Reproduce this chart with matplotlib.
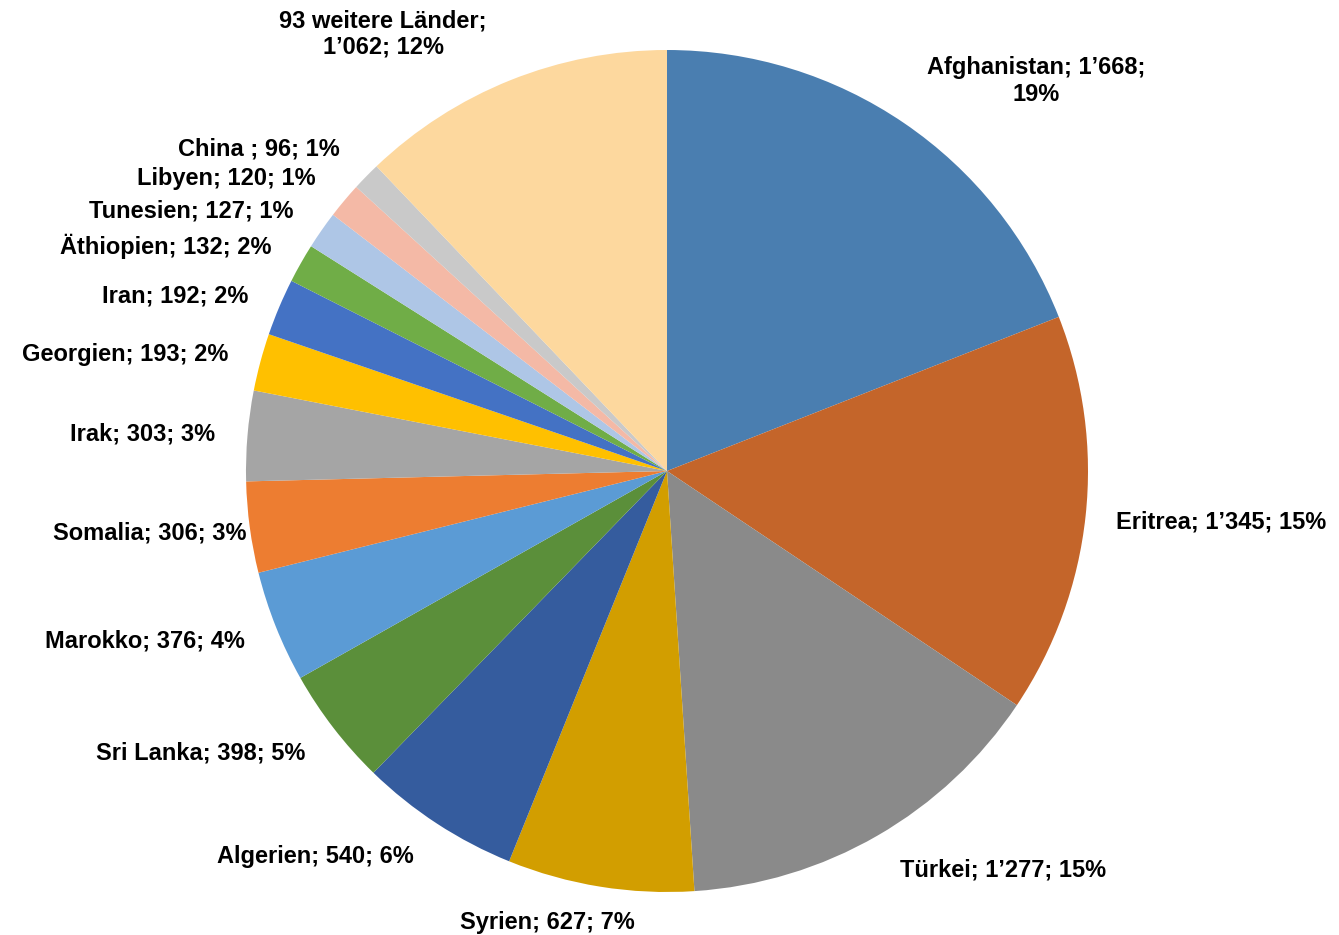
import matplotlib.pyplot as plt

plt.rcParams['font.family'] = ['Liberation Sans', 'DejaVu Sans']

countries = ["Afghanistan", "Eritrea", "Türkei", "Syrien", "Algerien", "Sri Lanka",
             "Marokko", "Somalia", "Irak", "Georgien", "Iran", "Äthiopien",
             "Tunesien", "Libyen", "China ", "93 weitere Länder"]
counts = [1668, 1345, 1277, 627, 540, 398, 376, 306, 303, 193, 192, 132, 127, 120, 96, 1062]
percents = [19, 15, 15, 7, 6, 5, 4, 3, 3, 2, 2, 2, 1, 1, 1, 12]

colors = ["#4a7eb0", "#c4652a", "#8a8a8a", "#d29e00", "#355c9e", "#5b8f3a",
          "#5b9bd5", "#ed7d31", "#a5a5a5", "#ffc000", "#4472c4", "#70ad47",
          "#aec6e6", "#f4b9a6", "#c9c9c9", "#fdd89e"]

# label anchor points in pixels (x, y from top) and horizontal alignment
label_layout = [
    (1036, 81, "center"), (1116, 522, "left"), (1003, 870, "center"),
    (547, 922, "center"), (414, 857, "right"), (305, 753, "right"),
    (245, 641, "right"), (246, 533, "right"), (215, 434, "right"),
    (228, 354, "right"), (248, 296, "right"), (271, 246, "right"),
    (293, 211, "right"), (316, 178, "right"), (340, 149, "right"),
    (383, 34, "center"),
]
two_line = {"Afghanistan", "93 weitere Länder"}

W, H = 1339, 935
CX, CY, R = 667, 471, 421


def fmt(n):
    s = f"{n:,}"
    return s.replace(",", "\u2019")


fig = plt.figure(figsize=(W / 100, H / 100), dpi=100)
ax = fig.add_axes([0, 0, 1, 1])
ax.pie(counts, colors=colors, startangle=90, counterclock=False, radius=1,
       wedgeprops=dict(linewidth=0))
ax.set_xlim(-CX / R, (W - CX) / R)
ax.set_ylim((CY - H) / R, CY / R)
ax.set_aspect("equal")
ax.axis("off")

for name, n, p, (px, py, ha) in zip(countries, counts, percents, label_layout):
    if name in two_line:
        if name == "Afghanistan":
            txt = f"{name}; {fmt(n)};\n{p}%"
        else:
            txt = f"{name};\n{fmt(n)}; {p}%"
    else:
        txt = f"{name}; {fmt(n)}; {p}%"
    ax.text((px - CX) / R, (CY - py) / R, txt, ha=ha, va="center",
            fontsize=17, fontweight="bold", linespacing=1.2)

fig.savefig("out.png", dpi=100)
